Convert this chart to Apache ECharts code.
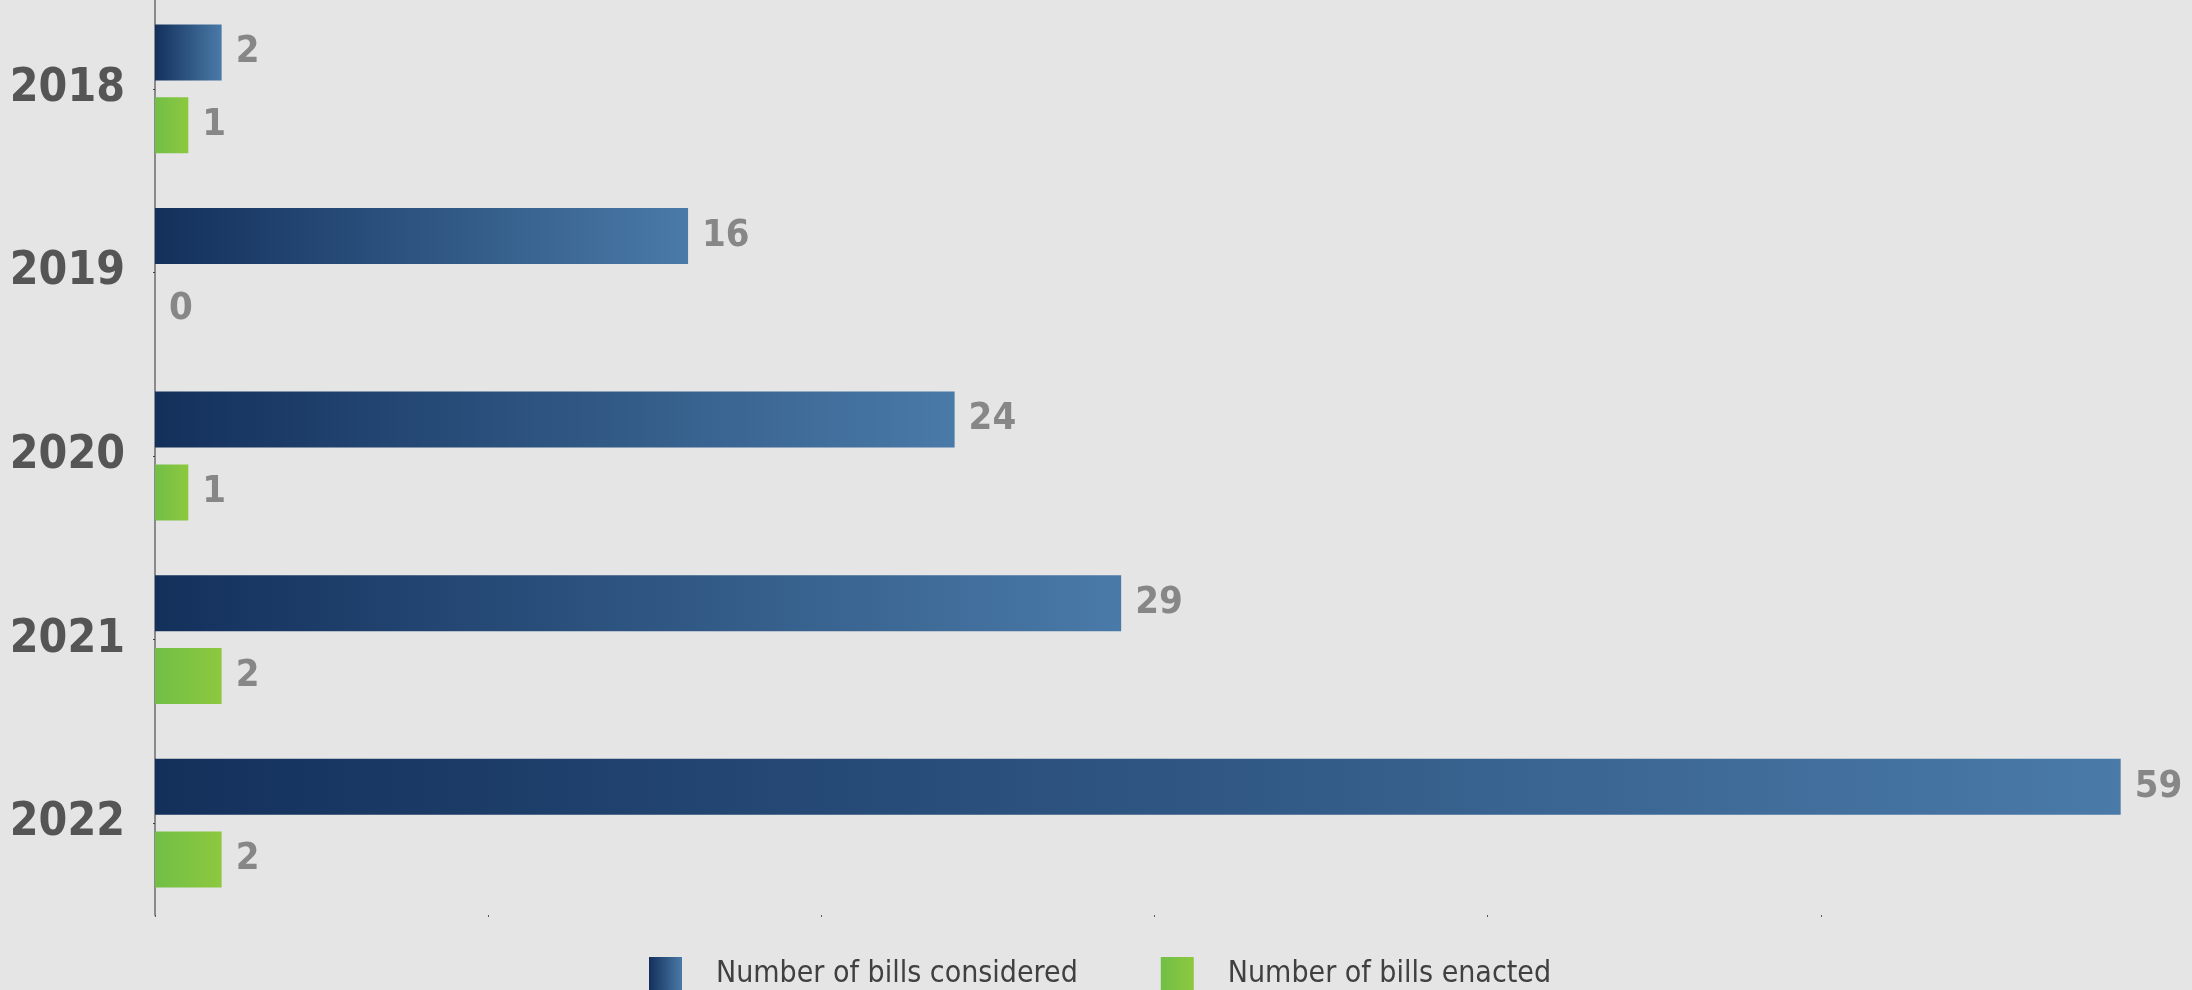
<!DOCTYPE html>
<html>
<head>
<meta charset="utf-8">
<script src="https://cdn.jsdelivr.net/npm/echarts@6/dist/echarts.min.js"></script>
<style>
html,body{margin:0;padding:0;background:#e5e5e5;}
#chart{width:2192px;height:990px;}
</style>
</head>
<body>
<div id="chart"></div>
<script>
const years = ['2018', '2019', '2020', '2021', '2022'];
const billsConsidered = [2, 16, 24, 29, 59];
const billsEnacted = [1, 0, 1, 2, 2];
const seriesNames = ['Number of bills considered', 'Number of bills enacted'];
const xTickValues = [0, 10, 20, 30, 40, 50];

const narrow = '"Liberation Sans Narrow", "DejaVu Sans Condensed", Arial, sans-serif';
const blueGrad = new echarts.graphic.LinearGradient(0, 0, 1, 0, [
  {offset: 0, color: '#13305b'},
  {offset: 1, color: '#4a7aa8'}
]);
const greenGrad = new echarts.graphic.LinearGradient(0, 0, 1, 0, [
  {offset: 0, color: '#71bf46'},
  {offset: 1, color: '#8dc83f'}
]);

const labelStyle = {
  show: true,
  position: 'right',
  distance: 14,
  color: '#878787',
  fontFamily: narrow,
  fontWeight: 'bold',
  fontSize: 38
};

const chart = echarts.init(document.getElementById('chart'), null, {renderer: 'canvas'});
chart.setOption({
  backgroundColor: '#e5e5e5',
  animation: false,
  grid: {left: 155, right: 38, top: -3, bottom: 75, containLabel: false, outerBoundsMode: 'none'},
  xAxis: {
    type: 'value',
    min: 0, max: 60, interval: 10,
    axisLine: {show: false},
    axisTick: {show: true, length: 2, customValues: xTickValues, lineStyle: {color: '#555', width: 1}},
    axisLabel: {show: false},
    splitLine: {show: false}
  },
  yAxis: {
    type: 'category',
    data: years,
    inverse: true,
    axisLine: {show: true, lineStyle: {color: '#8a8a8a', width: 2}},
    axisTick: {show: true, alignWithLabel: true, length: 2, lineStyle: {color: '#444', width: 1}},
    axisLabel: {
      margin: 30,
      color: '#555555',
      fontFamily: narrow,
      fontWeight: 'bold',
      fontSize: 46
    }
  },
  legend: {
    top: 952,
    left: 644,
    itemWidth: 33,
    itemHeight: 35,
    itemGap: 83,
    icon: 'rect',
    textStyle: {
      color: '#404040',
      fontFamily: narrow,
      fontSize: 30,
      padding: [0, 0, 0, 29]
    },
    data: seriesNames
  },
  series: [
    {
      name: seriesNames[0],
      type: 'bar',
      data: billsConsidered,
      barWidth: 56,
      barGap: '30%',
      itemStyle: {color: blueGrad},
      label: labelStyle
    },
    {
      name: seriesNames[1],
      type: 'bar',
      data: billsEnacted,
      barWidth: 56,
      barGap: '30%',
      itemStyle: {color: greenGrad},
      label: labelStyle
    }
  ]
});
</script>
</body>
</html>
